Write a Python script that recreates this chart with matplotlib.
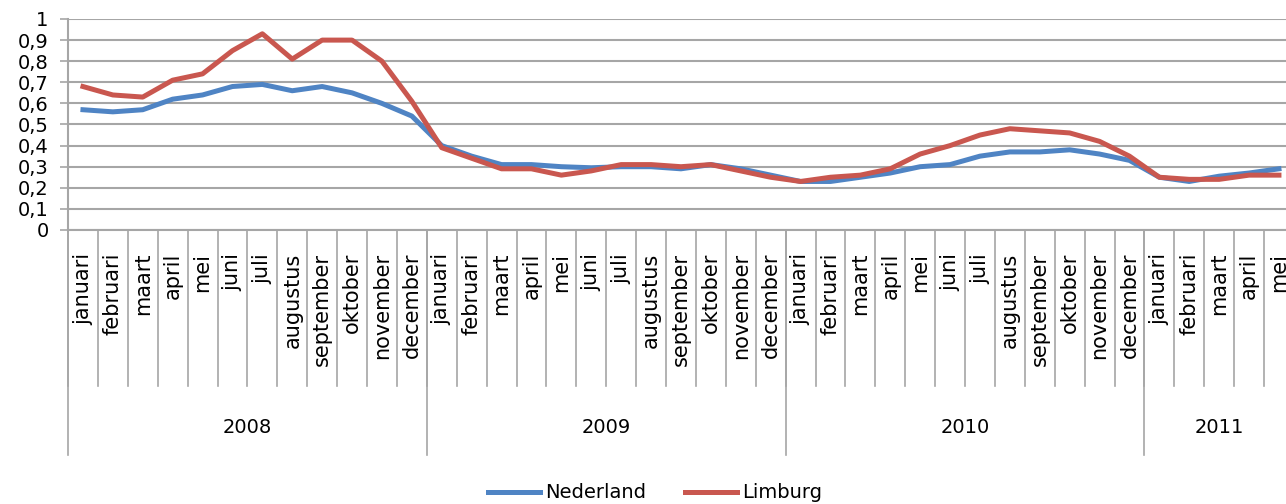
import matplotlib
matplotlib.use("Agg")
import matplotlib.pyplot as plt
import matplotlib.transforms as mtransforms
import numpy as np

months = ["januari", "februari", "maart", "april", "mei", "juni", "juli",
          "augustus", "september", "oktober", "november", "december"]
years = ["2008", "2009", "2010", "2011"]
months_per_year = [12, 12, 12, 5]
categories = [m for y, n in zip(years, months_per_year) for m in months[:n]]

nederland = [0.57, 0.56, 0.57, 0.62, 0.64, 0.68, 0.69, 0.66, 0.68, 0.65, 0.60, 0.54,
             0.40, 0.35, 0.31, 0.31, 0.30, 0.295, 0.30, 0.30, 0.29, 0.31, 0.29, 0.26,
             0.23, 0.23, 0.25, 0.27, 0.30, 0.31, 0.35, 0.37, 0.37, 0.38, 0.36, 0.33,
             0.25, 0.23, 0.255, 0.27, 0.29]
limburg = [0.68, 0.64, 0.63, 0.71, 0.74, 0.85, 0.93, 0.81, 0.90, 0.90, 0.80, 0.61,
           0.39, 0.34, 0.29, 0.29, 0.26, 0.28, 0.31, 0.31, 0.30, 0.31, 0.28, 0.25,
           0.23, 0.25, 0.26, 0.29, 0.36, 0.40, 0.45, 0.48, 0.47, 0.46, 0.42, 0.35,
           0.25, 0.24, 0.24, 0.26, 0.26]

W, H = 1286, 504
fig = plt.figure(figsize=(W / 100, H / 100), dpi=100)
left_px, top_px, bottom_px = 68, 19, 230
month_px = 29.9
n = len(categories)
ax = fig.add_axes([left_px / W, 1 - bottom_px / H, n * month_px / W, (bottom_px - top_px) / H])

blue = "#4F84C4"
red = "#C9574F"
grid = "#A6A6A6"
x = np.arange(n)
ax.plot(x, nederland, color=blue, lw=3.6, solid_joinstyle="round", label="Nederland", clip_on=False)
ax.plot(x, limburg, color=red, lw=3.6, solid_joinstyle="round", label="Limburg", clip_on=False)

ax.set_xlim(-0.5, n - 0.5)
ax.set_ylim(0, 1)
ax.set_yticks(np.arange(0, 1.01, 0.1))
ax.set_yticklabels([("%.1f" % v).replace(".", ",") if v not in (0, 1) else "%d" % v
                    for v in np.arange(0, 1.01, 0.1)], fontsize=14)
ax.yaxis.grid(True, color=grid, lw=1.5)
ax.set_axisbelow(True)
ax.tick_params(axis="y", length=6, width=1.2, color=grid, pad=8)
ax.set_xticks([])
for s in ["top", "right"]:
    ax.spines[s].set_visible(False)
for s in ["left", "bottom"]:
    ax.spines[s].set_color(grid)
    ax.spines[s].set_linewidth(1.5)

tr = mtransforms.blended_transform_factory(ax.transData, ax.transAxes)
axh = bottom_px - top_px
month_line_end = -(386 - bottom_px) / axh
year_line_end = -(455 - bottom_px) / axh
label_top = -(253 - bottom_px) / axh
year_y = -(428 - bottom_px) / axh

for i, lab in enumerate(categories):
    ax.text(i, label_top, lab, rotation=90, ha="center", va="top", fontsize=15,
            transform=tr, clip_on=False)
for b in range(0, n + 1):
    ax.plot([b - 0.5, b - 0.5], [0, month_line_end], color=grid, lw=1.2,
            transform=tr, clip_on=False)

start = 0
for yr, cnt in zip(years, months_per_year):
    ax.plot([start - 0.5, start - 0.5], [0, year_line_end], color=grid, lw=1.2,
            transform=tr, clip_on=False)
    ax.text(start - 0.5 + cnt / 2, year_y, yr, ha="center", va="center", fontsize=14,
            transform=tr, clip_on=False)
    start += cnt

leg = fig.legend(loc="center", bbox_to_anchor=(655 / W, 1 - 493 / H), ncol=2,
                 frameon=False, fontsize=14, handlelength=2.7, handletextpad=0.25,
                 columnspacing=2.0)

fig.savefig("out.png", dpi=100)
